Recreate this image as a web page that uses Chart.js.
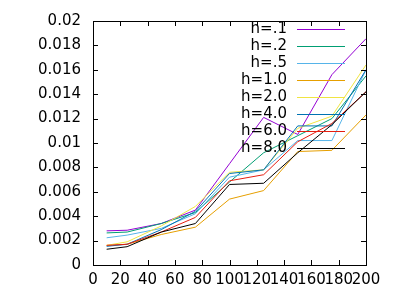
<!DOCTYPE html>
<html>
<head>
<meta charset="utf-8">
<script src="https://cdn.jsdelivr.net/npm/chart.js@4"></script>
<style>
  body { margin: 0; background: #fff; }
  canvas { display: block; }
</style>
</head>
<body>
<canvas id="grafico" width="400" height="300"></canvas>
<script>
// valores
const xValores = [10, 25, 50, 75, 100, 125, 150, 175, 200];

const legendas = ['h=.1', 'h=.2', 'h=.5', 'h=1.0', 'h=2.0', 'h=4.0', 'h=6.0', 'h=8.0'];
const cores = ['#9400d3', '#009e73', '#56b4e9', '#e69f00', '#f0e442', '#0072b2', '#e51e10', '#000000'];

const h01 = [0.0028, 0.00285, 0.0034, 0.0045, 0.0083, 0.0121, 0.0107, 0.0156, 0.01855];
const h02 = [0.00263, 0.0027, 0.0034, 0.0043, 0.0068, 0.0092, 0.0106, 0.0120, 0.0155];
const h05 = [0.00223, 0.00245, 0.0030, 0.0042, 0.0072, 0.0078, 0.0102, 0.0102, 0.0160];
const h10 = [0.00161, 0.0017, 0.0025, 0.0031, 0.0054, 0.0061, 0.0093, 0.0094, 0.0123];
const h20 = [0.00161, 0.0019, 0.0032, 0.0048, 0.0076, 0.0078, 0.0112, 0.0122, 0.0164];
const h40 = [0.00153, 0.0017, 0.0029, 0.0044, 0.0075, 0.0078, 0.0114, 0.0114, 0.0160];
const h60 = [0.00161, 0.0017, 0.0027, 0.0039, 0.0069, 0.0074, 0.0101, 0.0116, 0.0142];
const h80 = [0.00129, 0.0015, 0.0027, 0.0034, 0.0066, 0.0067, 0.0092, 0.0115, 0.0142];

const series = [h01, h02, h05, h10, h20, h40, h60, h80];

const fonte = { family: "'DejaVu Sans'", size: 15 };

let datasets = [];
for (let i = 0; i < series.length; i++) {
    let pontos = [];
    for (let j = 0; j < xValores.length; j++) {
        pontos.push({ x: xValores[j], y: series[i][j] });
    }
    datasets.push({
        label: legendas[i],
        data: pontos,
        borderColor: cores[i],
        backgroundColor: cores[i],
        borderWidth: 1,
        pointRadius: 0,
        fill: false,
        tension: 0,
        order: series.length - i
    });
}

// moldura com marcas para dentro (estilo gnuplot) e legenda
const molduraPlugin = {
    id: 'moldura',
    afterDatasetsDraw(chart) {
        const ctx = chart.ctx;
        const a = chart.chartArea;
        const sx = chart.scales.x;
        const sy = chart.scales.y;
        const t = 5;
        ctx.save();
        ctx.strokeStyle = '#000';
        ctx.lineWidth = 1;
        ctx.beginPath();
        sx.ticks.forEach(function (tk) {
            const px = Math.round(sx.getPixelForValue(tk.value)) + 0.5;
            ctx.moveTo(px, a.bottom);
            ctx.lineTo(px, a.bottom - t);
            ctx.moveTo(px, a.top);
            ctx.lineTo(px, a.top + t);
        });
        sy.ticks.forEach(function (tk) {
            const py = Math.round(sy.getPixelForValue(tk.value)) + 0.5;
            ctx.moveTo(a.left, py);
            ctx.lineTo(a.left + t, py);
            ctx.moveTo(a.right, py);
            ctx.lineTo(a.right - t, py);
        });
        ctx.stroke();
        ctx.strokeRect(Math.round(a.left) + 0.5, Math.round(a.top) + 0.5,
            Math.round(a.right - a.left), Math.round(a.bottom - a.top));

        // legenda
        ctx.font = "15px 'DejaVu Sans'";
        ctx.textAlign = 'right';
        ctx.textBaseline = 'middle';
        chart.data.datasets.forEach(function (ds, i) {
            const y = Math.round(29 + i * 17.05) + 0.5;
            ctx.fillStyle = '#000';
            ctx.fillText(ds.label, 287, y);
            ctx.strokeStyle = ds.borderColor;
            ctx.beginPath();
            ctx.moveTo(297, y);
            ctx.lineTo(345, y);
            ctx.stroke();
        });
        ctx.restore();
    }
};

new Chart(document.getElementById('grafico'), {
    type: 'line',
    data: { datasets: datasets },
    options: {
        responsive: false,
        animation: false,
        layout: { padding: { left: 0, right: 34, top: 17, bottom: 0 } },
        plugins: {
            legend: { display: false },
            tooltip: { enabled: false }
        },
        scales: {
            x: {
                type: 'linear',
                min: 0,
                max: 200,
                ticks: { stepSize: 20, color: '#000', font: fonte, padding: 6, maxRotation: 0, autoSkip: false },
                grid: { display: false, drawTicks: false },
                border: { display: false },
                afterFit: function (scale) { scale.height = 35; }
            },
            y: {
                min: 0,
                max: 0.02,
                ticks: {
                    stepSize: 0.002,
                    color: '#000',
                    font: fonte,
                    padding: 12,
                    callback: function (v) { return String(+v.toFixed(4)); }
                },
                grid: { display: false, drawTicks: false },
                border: { display: false },
                afterFit: function (scale) { scale.width = 93; }
            }
        }
    },
    plugins: [molduraPlugin]
});
</script>
</body>
</html>
